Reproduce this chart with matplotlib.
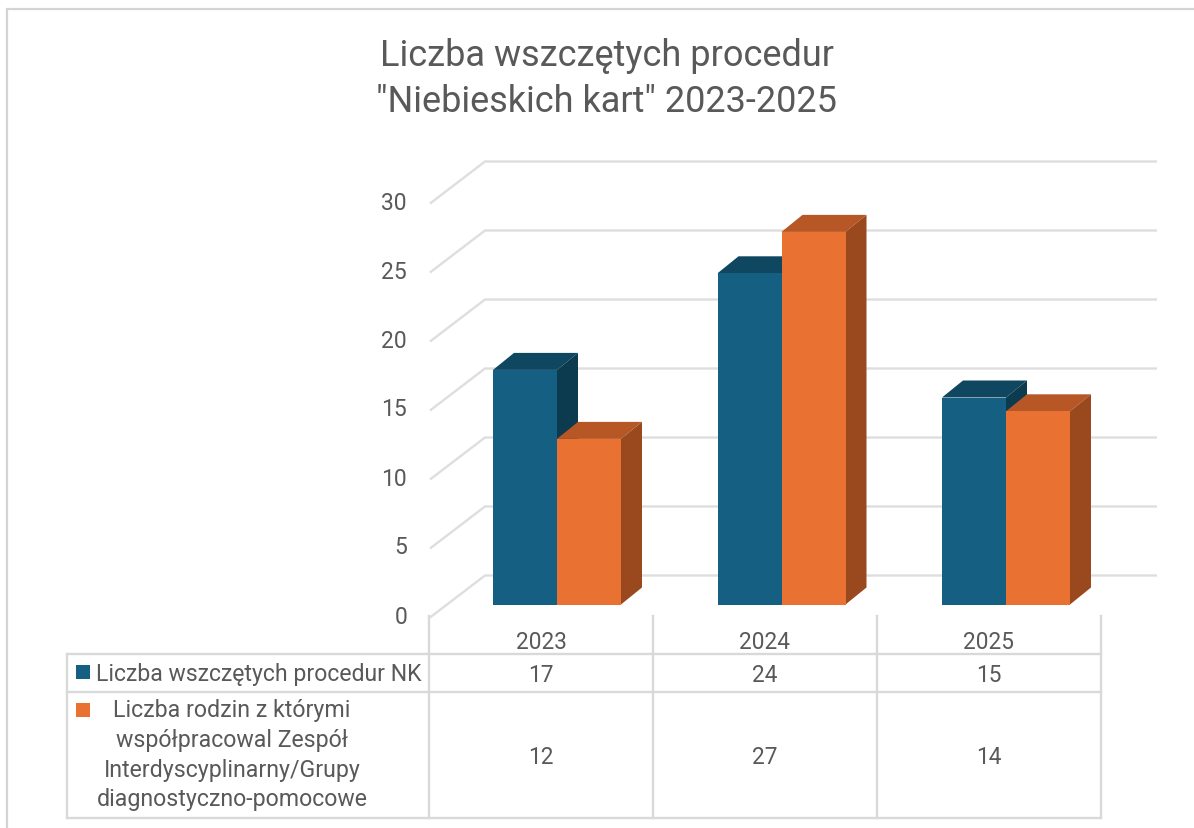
import matplotlib
matplotlib.use('Agg')
import matplotlib.pyplot as plt
from matplotlib.patches import Polygon, Rectangle

# data
years = ['2023', '2024', '2025']
procedury = [17, 24, 15]
rodziny = [12, 27, 14]
y_ticks = [0, 5, 10, 15, 20, 25, 30]
title_lines = ['Liczba wszczętych procedur', '"Niebieskich kart" 2023-2025']
label_1 = ['Liczba wszczętych procedur NK']
label_2 = ['Liczba rodzin z którymi', 'współpracowal Zespół', 'Interdyscyplinarny/Grupy', 'diagnostyczno-pomocowe']

BLUE, BLUE_TOP, BLUE_SIDE = '#156082', '#0F4761', '#0C3B50'
ORANGE, ORANGE_TOP, ORANGE_SIDE = '#E97132', '#B85726', '#9A491F'
GRID = '#DEDEDE'
LINE = '#D9D9D9'
TEXT = '#595959'

W, H = 1194, 829
plt.rcParams['font.family'] = ['Roboto', 'DejaVu Sans']

fig = plt.figure(figsize=(W / 100, H / 100), dpi=100)

# main axes fills the figure, scales chosen so 1 unit = 13.8 px, 1 category = 224.5 px
PX_Y = 13.8
PX_X = 224.5
BASE = 605.5
ax = fig.add_axes([0, 0, 1, 1])
ax.set_xlim(-557 / PX_X, (W - 557) / PX_X)
ax.set_ylim((BASE - H) / PX_Y, BASE / PX_Y)
ax.axis('off')

# second axes in picture pixels for the table and the frame
page = fig.add_axes([0, 0, 1, 1], facecolor='none')
page.set_xlim(0, W)
page.set_ylim(H, 0)
page.axis('off')

# frame of the picture
page.plot([7, 7, W], [H, 10, 10], color='#D4D4D4', lw=1.6, solid_joinstyle='miter')

# gridlines with the floor/wall bend
for v in y_ticks:
    yb = v + 29 / PX_Y
    yf = v - 13 / PX_Y
    ax.plot([(430 - 557) / PX_X, (485 - 557) / PX_X, (1157 - 557) / PX_X], [yf, yb, yb],
            color=GRID, lw=1.7, solid_capstyle='butt', zorder=1)

# bars
width = 64 / PX_X
dx = 21 / PX_X
dy = 17 / PX_Y


def draw_bar(x0, val, front, top, side, z):
    ax.bar(x0, val, width=width, align='edge', color=front, zorder=z + 1)
    x1 = x0 + width
    ax.add_patch(Polygon([(x0, val), (x0 + dx, val + dy), (x1 + dx, val + dy), (x1, val)],
                         closed=True, facecolor=top, edgecolor='none', zorder=z))
    ax.add_patch(Polygon([(x1, val), (x1 + dx, val + dy), (x1 + dx, dy), (x1, 0)],
                         closed=True, facecolor=side, edgecolor='none', zorder=z))


for i in range(len(years)):
    draw_bar(i - width, procedury[i], BLUE, BLUE_TOP, BLUE_SIDE, 3 + i * 4)
    draw_bar(i, rodziny[i], ORANGE, ORANGE_TOP, ORANGE_SIDE, 5 + i * 4)

# y labels
for v in y_ticks:
    page.text(407, 617 - v * PX_Y, str(v), ha='right', va='center', fontsize=16.5, color=TEXT)

# table
TL, T0, T1, T2, T3 = 67, 617, 655, 693, 819
cols = [429, 653, 877, 1101]
for c in cols:
    page.plot([c, c], [T0, T3], color=LINE, lw=1.7, zorder=2)
page.plot([TL, TL], [T1, T3], color=LINE, lw=1.7, zorder=2)
for r in [T1, T2, T3]:
    page.plot([TL, cols[-1]], [r, r], color=LINE, lw=1.7, zorder=2)

for i, year in enumerate(years):
    xc = (cols[i] + cols[i + 1]) / 2
    page.text(xc, 642.5, year, ha='center', va='center', fontsize=16.3, color=TEXT)
    page.text(xc, 675, str(procedury[i]), ha='center', va='center', fontsize=16.3, color=TEXT)
    page.text(xc, 757, str(rodziny[i]), ha='center', va='center', fontsize=16.3, color=TEXT)

# legend keys and row names
page.add_patch(Rectangle((76, 666), 14, 14, facecolor=BLUE, edgecolor='none'))
page.add_patch(Rectangle((76, 704), 14, 14, facecolor=ORANGE, edgecolor='none'))
page.text(96, 674.5, label_1[0], ha='left', va='center', fontsize=16.6, color=TEXT)
for line, y in zip(label_2, [710.5, 740.5, 770.5, 799.5]):
    page.text(232, y, line, ha='center', va='center', fontsize=16.7, color=TEXT)

# title
for line, y in zip(title_lines, [55.5, 101.5]):
    page.text(607, y, line, ha='center', va='center', fontsize=26, color=TEXT)

fig.savefig('out.png', dpi=100)
